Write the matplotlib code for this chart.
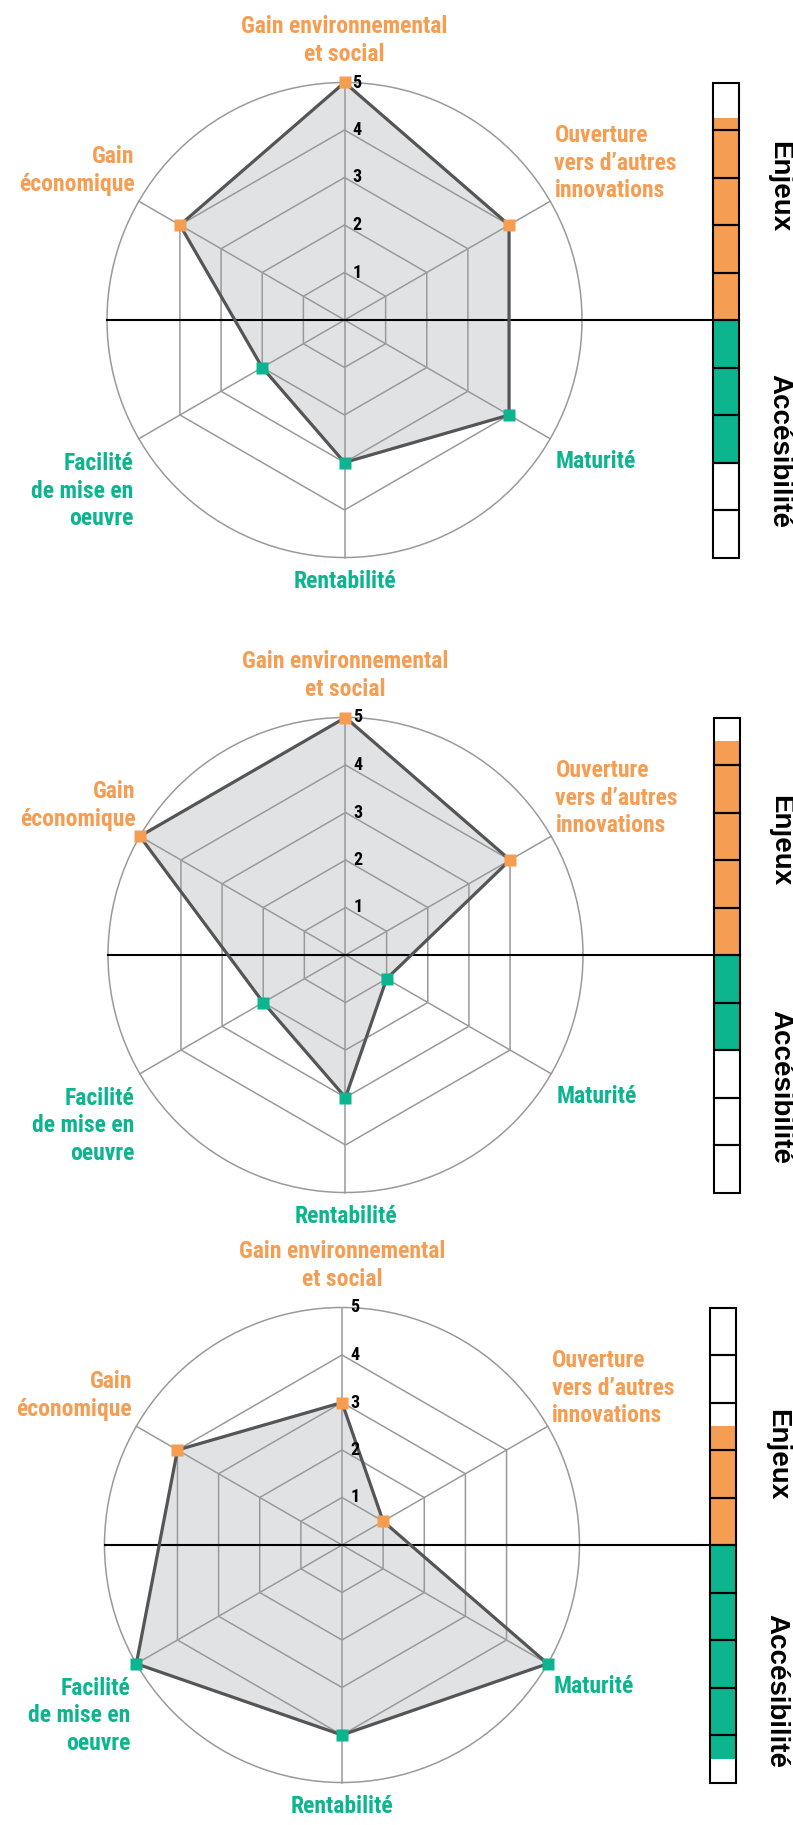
import numpy as np
import matplotlib
matplotlib.use("Agg")
import matplotlib.pyplot as plt
from matplotlib.patches import Circle, Rectangle, Polygon

NARROW = ['Roboto Condensed', 'Liberation Sans Narrow', 'DejaVu Sans Condensed', 'Roboto', 'DejaVu Sans']
plt.rcParams['font.family'] = NARROW
plt.rcParams['font.stretch'] = 'condensed'

# ---- data ----
categories = ["Gain environnemental\net social", "Ouverture\nvers d’autres\ninnovations",
              "Maturité", "Rentabilité", "Facilité\nde mise en\noeuvre", "Gain\néconomique"]
groups = ["enjeux", "enjeux", "acces", "acces", "acces", "enjeux"]
scores_a = [5, 4, 4, 3, 2, 4]
scores_b = [5, 4, 1, 3, 2, 5]
scores_c = [3, 1, 5, 4, 5, 4]
enjeux_scores = [4.25, 4.5, 2.5]
acces_scores = [3, 2, 4.5]
levels = [1, 2, 3, 4, 5]

ORANGE = '#f59d52'
GREEN = '#0cb58e'
GRID = '#9a9a9a'
FILL = '#e1e2e4'
EDGE = '#555555'
colors = {'enjeux': ORANGE, 'acces': GREEN}

angles = np.deg2rad([90, 30, -30, -90, -150, 150])

W, H = 793, 1825
U = 47.5  # px per radial unit
centers = [(344.5, 320), (345.5, 955), (342, 1545)]
bands = [(0, 635), (635, 1245), (1245, 1825)]
label_pos = [(0, 5.88, 'center'), (4.42, 3.3, 'left'), (4.45, -2.98, 'left'),
             (0, -5.5, 'center'), (-4.45, -3.6, 'right'), (-4.42, 3.15, 'right')]
enjeux_y = [2.8, 2.4, 1.9]
acces_y = [-2.76, -2.77, -3.07]
bar_x0, bar_w = 7.75, 0.55

fig = plt.figure(figsize=(W / 100, H / 100), dpi=100)


def radar(ax, scores, enj, acc, ey, ay):
    # grid
    for lv in levels[:-1]:
        hx = np.append(lv * np.cos(angles), lv * np.cos(angles[0]))
        hy = np.append(lv * np.sin(angles), lv * np.sin(angles[0]))
        ax.plot(hx, hy, color=GRID, lw=1.1, zorder=2)
    for a in angles:
        ax.plot([0, 5 * np.cos(a)], [0, 5 * np.sin(a)], color=GRID, lw=1.1, zorder=2)
    ax.add_patch(Circle((0, 0), 5, fill=False, ec=GRID, lw=1.1, zorder=2))

    # data polygon
    s = np.array(scores, dtype=float)
    px = s * np.cos(angles)
    py = s * np.sin(angles)
    ax.add_patch(Polygon(np.column_stack([px, py]), closed=True, fc=FILL, ec='none', zorder=1))
    ax.plot(np.append(px, px[0]), np.append(py, py[0]), color=EDGE, lw=2.3, zorder=4)
    for x, y, g in zip(px, py, groups):
        ax.plot(x, y, marker='s', ms=8.4, color=colors[g], mec='none', zorder=5)

    # axis numbers
    for lv in levels:
        ax.text(0.17, lv, str(lv), ha='left', va='center', fontsize=13,
                fontweight='bold', color='black', zorder=6)

    # labels
    for lab, g, (lx, ly, ha) in zip(categories, groups, label_pos):
        ax.text(lx, ly, lab, ha=ha, va='center', multialignment=ha, fontsize=17,
                fontweight='bold', color=colors[g], linespacing=1.25)

    # horizontal separator
    ax.plot([-5, bar_x0], [0, 0], color='black', lw=1.5, zorder=3)

    # gauge bar
    ax.add_patch(Rectangle((bar_x0, 0), bar_w, enj, fc=ORANGE, ec='none', zorder=1))
    ax.add_patch(Rectangle((bar_x0, -acc), bar_w, acc, fc=GREEN, ec='none', zorder=1))
    for k in range(-5, 5):
        ax.add_patch(Rectangle((bar_x0, k), bar_w, 1, fill=False, ec='black', lw=1.5, zorder=3))

    ax.text(9.15, ey, "Enjeux", rotation=-90, ha='center', va='center', fontsize=20,
            fontweight='bold', family=['Liberation Sans', 'DejaVu Sans'], fontstretch='normal')
    ax.text(9.15, ay, "Accésibilité", rotation=-90, ha='center', va='center', fontsize=20,
            fontweight='bold', family=['Liberation Sans', 'DejaVu Sans'], fontstretch='normal')


for i, scores in enumerate([scores_a, scores_b, scores_c]):
    cx, cy = centers[i]
    top, bot = bands[i]
    ax = fig.add_axes([0, 1 - bot / H, 1, (bot - top) / H])
    ax.set_xlim(-cx / U, (W - cx) / U)
    ax.set_ylim((cy - bot) / U, (cy - top) / U)
    ax.axis('off')
    radar(ax, scores, enjeux_scores[i], acces_scores[i], enjeux_y[i], acces_y[i])

fig.savefig('out.png', dpi=100)
